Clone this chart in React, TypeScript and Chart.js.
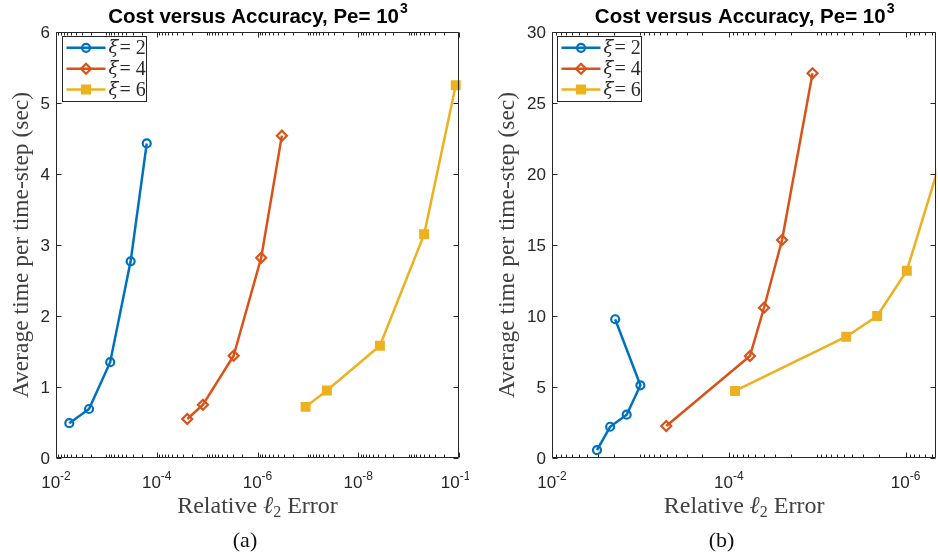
import React, { useEffect, useRef } from "react";
import { Chart, registerables } from "chart.js";
Chart.register(...registerables);

// ---------- data ----------
const legendXi = ["2", "4", "6"];
const colors = ["#0072BD", "#D95319", "#EDB120"];
const markers = ["circle", "rectRot", "rect"];

// Panel (a)
const aErr2 = [5.45e-3, 2.21e-3, 8.4e-4, 3.3e-4, 1.58e-4];
const aTime2 = [0.49, 0.69, 1.35, 2.77, 4.43];
const aErr4 = [2.48e-5, 1.21e-5, 2.98e-6, 8.45e-7, 3.28e-7];
const aTime4 = [0.55, 0.75, 1.44, 2.82, 4.54];
const aErr6 = [1.11e-7, 4.2e-8, 3.72e-9, 4.92e-10, 1.16e-10];
const aTime6 = [0.72, 0.95, 1.58, 3.15, 5.25];

// Panel (b)
const bErr2 = [3.1e-3, 2.2e-3, 1.43e-3, 1.0e-3, 1.93e-3];
const bTime2 = [0.56, 2.2, 3.05, 5.12, 9.77];
const bErr4 = [5.1e-4, 5.77e-5, 4.0e-5, 2.5e-5, 1.13e-5];
const bTime4 = [2.25, 7.18, 10.58, 15.35, 27.09];
const bErr6 = [8.5e-5, 4.7e-6, 2.1e-6, 9.7e-7, 3.2e-7];
const bTime6 = [4.72, 8.54, 10.0, 13.19, 23.0];

// axes
const aXRange = [1e-10, 1e-2];
const aYRange = [0, 6];
const aXTickExps = [-2, -4, -6, -8, -10];
const aYTicks = [0, 1, 2, 3, 4, 5, 6];

const bXRange = [4.5e-7, 1e-2];
const bYRange = [0, 30];
const bXTickExps = [-2, -4, -6];
const bYTicks = [0, 5, 10, 15, 20, 25, 30];

const titleText = "Cost versus Accuracy, Pe= 10";
const titleSup = "3";
const yLabel = "Average time per time-step (sec)";
const xLabelA = "Relative ";
const xLabelEll = "ℓ";
const xLabelSub = "2";
const xLabelB = " Error";

const AXIS = "#262626";
const LABEL = "#404040";
const SANS = '"Liberation Sans", Arial, sans-serif';
const SERIF = '"Liberation Serif", "Times New Roman", serif';
const GREEK = '"DejaVu Serif", serif';

function makeDatasets(errs: number[][], times: number[][]) {
  return errs.map((e, i) => ({
    label: "ξ= " + legendXi[i],
    data: e.map((x, j) => ({ x, y: times[i][j] })),
    showLine: true,
    borderColor: colors[i],
    backgroundColor: colors[i],
    borderWidth: 2.5,
    pointStyle: markers[i],
    pointRadius: i === 0 ? 4 : i === 1 ? 5 : 5.5,
    pointBorderWidth: 2.2,
    pointBorderColor: colors[i],
    pointBackgroundColor: i === 2 ? colors[i] : "rgba(255,255,255,0)",
    tension: 0,
  }));
}

function drawMarker(ctx: CanvasRenderingContext2D, style: string, x: number, y: number, color: string) {
  ctx.save();
  ctx.strokeStyle = color;
  ctx.fillStyle = color;
  ctx.lineWidth = 2.2;
  ctx.beginPath();
  if (style === "circle") {
    ctx.arc(x, y, 4, 0, Math.PI * 2);
    ctx.stroke();
  } else if (style === "rectRot") {
    ctx.moveTo(x, y - 5);
    ctx.lineTo(x + 5, y);
    ctx.lineTo(x, y + 5);
    ctx.lineTo(x - 5, y);
    ctx.closePath();
    ctx.stroke();
  } else {
    ctx.rect(x - 4, y - 4, 8, 8);
    ctx.fill();
    ctx.stroke();
  }
  ctx.restore();
}

type PanelCfg = {
  xTickExps: number[];
  yTicks: number[];
  panelLabel: string;
  panelLabelX: number;
  ylabelX: number;
  legendDX: number;
};

function decorPlugin(cfg: PanelCfg) {
  return {
    id: "decor",
    afterDraw(chart: any) {
      const ctx: CanvasRenderingContext2D = chart.ctx;
      const { left, right, top, bottom } = chart.chartArea;
      const xs = chart.scales.x;
      const ys = chart.scales.y;
      const L = Math.round(left) + 0.5;
      const R = Math.round(right) - 0.5;
      const T = Math.round(top) + 0.5;
      const B = Math.round(bottom) - 0.5;
      ctx.save();
      ctx.strokeStyle = AXIS;
      ctx.lineWidth = 1;
      ctx.beginPath();
      ctx.moveTo(L, T);
      ctx.lineTo(R, T);
      ctx.lineTo(R, B);
      ctx.lineTo(L, B);
      ctx.closePath();
      ctx.stroke();

      // x ticks (major + minor), bottom and top, inward
      ctx.beginPath();
      for (let d = -1; d >= -12; d--) {
        for (let k = 1; k <= 9; k++) {
          const v = k * Math.pow(10, d);
          if (v < xs.min * 0.999 || v > xs.max * 1.001) continue;
          const px = Math.round(xs.getPixelForValue(v)) + 0.5;
          const major = k === 1 && cfg.xTickExps.includes(d);
          const len = major ? 5 : 3;
          ctx.moveTo(px, B);
          ctx.lineTo(px, B - len);
          ctx.moveTo(px, T);
          ctx.lineTo(px, T + len);
        }
      }
      // y ticks
      for (const v of cfg.yTicks) {
        const py = Math.round(ys.getPixelForValue(v)) + 0.5;
        ctx.moveTo(L, py);
        ctx.lineTo(L + 5, py);
        ctx.moveTo(R, py);
        ctx.lineTo(R - 5, py);
      }
      ctx.stroke();

      // y tick labels
      ctx.fillStyle = AXIS;
      ctx.font = "17px " + SANS;
      ctx.textAlign = "right";
      ctx.textBaseline = "middle";
      for (const v of cfg.yTicks) {
        ctx.fillText(String(v), left - 6, ys.getPixelForValue(v) + 1);
      }

      // x tick labels 10^e
      ctx.textBaseline = "alphabetic";
      ctx.textAlign = "left";
      for (const e of cfg.xTickExps) {
        const px = xs.getPixelForValue(Math.pow(10, e));
        ctx.font = "17px " + SANS;
        const w1 = ctx.measureText("10").width;
        ctx.font = "12px " + SANS;
        const w2 = ctx.measureText(String(e)).width;
        const x0 = px - (w1 + w2) / 2;
        ctx.font = "17px " + SANS;
        ctx.fillText("10", x0, 488);
        ctx.font = "12px " + SANS;
        ctx.fillText(String(e), x0 + w1, 480);
      }

      // title
      const cx = (left + right) / 2;
      ctx.fillStyle = "#000";
      ctx.font = "bold 20.5px " + SANS;
      const tw1 = ctx.measureText(titleText).width;
      ctx.font = "bold 14px " + SANS;
      const tw2 = ctx.measureText(titleSup).width;
      const tx0 = cx - (tw1 + tw2) / 2;
      ctx.font = "bold 20.5px " + SANS;
      ctx.fillText(titleText, tx0, 23);
      ctx.font = "bold 14px " + SANS;
      ctx.fillText(titleSup, tx0 + tw1 + 1, 13);

      // x label
      ctx.fillStyle = LABEL;
      const f1 = "24px " + SERIF;
      const fI = "italic 24px " + SERIF;
      const fS = "16px " + SERIF;
      ctx.font = f1;
      const wa = ctx.measureText(xLabelA).width;
      const wb = ctx.measureText(xLabelB).width;
      ctx.font = fI;
      const we = ctx.measureText(xLabelEll).width;
      ctx.font = fS;
      const ws = ctx.measureText(xLabelSub).width;
      let xx = cx - (wa + we + ws + wb) / 2;
      ctx.font = f1;
      ctx.fillText(xLabelA, xx, 513);
      xx += wa;
      ctx.font = fI;
      ctx.fillText(xLabelEll, xx, 513);
      xx += we;
      ctx.font = fS;
      ctx.fillText(xLabelSub, xx, 517);
      xx += ws;
      ctx.font = f1;
      ctx.fillText(xLabelB, xx, 513);

      // panel label
      ctx.textAlign = "center";
      ctx.fillStyle = "#111";
      ctx.font = "22px " + SERIF;
      ctx.fillText(cfg.panelLabel, cfg.panelLabelX, 547);

      // y label
      ctx.save();
      ctx.fillStyle = LABEL;
      ctx.translate(cfg.ylabelX, (top + bottom) / 2);
      ctx.rotate(-Math.PI / 2);
      ctx.font = "23.5px " + SERIF;
      ctx.textAlign = "center";
      ctx.fillText(yLabel, 0, 0);
      ctx.restore();

      // legend
      const lx = Math.round(left) + cfg.legendDX + 0.5;
      const ly = Math.round(top) + 4 + 0.5;
      const lw = 84;
      const lh = 65;
      ctx.fillStyle = "#fff";
      ctx.fillRect(lx, ly, lw, lh);
      ctx.strokeStyle = AXIS;
      ctx.lineWidth = 1;
      ctx.strokeRect(lx, ly, lw, lh);
      const rows = [11.3, 32.3, 53];
      for (let i = 0; i < 3; i++) {
        const ry = ly + rows[i];
        ctx.strokeStyle = colors[i];
        ctx.lineWidth = 2.5;
        ctx.beginPath();
        ctx.moveTo(lx + 4, ry);
        ctx.lineTo(lx + 43, ry);
        ctx.stroke();
        drawMarker(ctx, markers[i], lx + 23.5, ry, colors[i]);
        ctx.fillStyle = "#2a2a2a";
        ctx.textAlign = "left";
        ctx.textBaseline = "middle";
        ctx.font = "italic 18px " + GREEK;
        ctx.fillText("ξ", lx + 46, ry + 1);
        const wx = ctx.measureText("ξ").width;
        ctx.font = "20px " + SERIF;
        ctx.fillText("= " + legendXi[i], lx + 46 + wx + 1, ry + 1);
      }
      ctx.restore();
    },
  };
}

function Panel(props: {
  errs: number[][];
  times: number[][];
  xRange: number[];
  yRange: number[];
  cfg: PanelCfg;
  width: number;
  padding: { left: number; top: number; right: number; bottom: number };
  clip: boolean;
  style: React.CSSProperties;
}) {
  const ref = useRef<HTMLCanvasElement>(null);
  useEffect(() => {
    if (!ref.current) return;
    const datasets = makeDatasets(props.errs, props.times).map((d) => ({
      ...d,
      clip: props.clip ? undefined : (false as any),
    }));
    const chart = new Chart(ref.current, {
      type: "scatter",
      data: { datasets: datasets as any },
      options: {
        animation: false,
        responsive: false,
        events: [],
        layout: { padding: props.padding },
        plugins: {
          legend: { display: false },
          title: { display: false },
          tooltip: { enabled: false },
        },
        scales: {
          x: {
            type: "logarithmic",
            reverse: true,
            min: props.xRange[0],
            max: props.xRange[1],
            display: false,
          },
          y: {
            type: "linear",
            min: props.yRange[0],
            max: props.yRange[1],
            display: false,
          },
        },
      },
      plugins: [decorPlugin(props.cfg)],
    });
    return () => chart.destroy();
  }, []);
  return <canvas ref={ref} width={props.width} height={556} style={props.style} />;
}

export default function App() {
  return (
    <div
      style={{
        position: "fixed",
        left: 0,
        top: 0,
        width: 938,
        height: 556,
        overflow: "hidden",
        background: "#fff",
      }}
    >
      <Panel
        errs={[aErr2, aErr4, aErr6]}
        times={[aTime2, aTime4, aTime6]}
        xRange={aXRange}
        yRange={aYRange}
        width={469}
        padding={{ left: 56, top: 32, right: 10, bottom: 98 }}
        clip={false}
        cfg={{
          xTickExps: aXTickExps,
          yTicks: aYTicks,
          panelLabel: "(a)",
          panelLabelX: 245,
          ylabelX: 28,
          legendDX: 6,
        }}
        style={{ position: "absolute", left: 0, top: 0 }}
      />
      <Panel
        errs={[bErr2, bErr4, bErr6]}
        times={[bTime2, bTime4, bTime6]}
        xRange={bXRange}
        yRange={bYRange}
        width={475}
        padding={{ left: 83, top: 32, right: 4, bottom: 98 }}
        clip={true}
        cfg={{
          xTickExps: bXTickExps,
          yTicks: bYTicks,
          panelLabel: "(b)",
          panelLabelX: 252.5,
          ylabelX: 45,
          legendDX: 5,
        }}
        style={{ position: "absolute", left: 469, top: 0 }}
      />
    </div>
  );
}
